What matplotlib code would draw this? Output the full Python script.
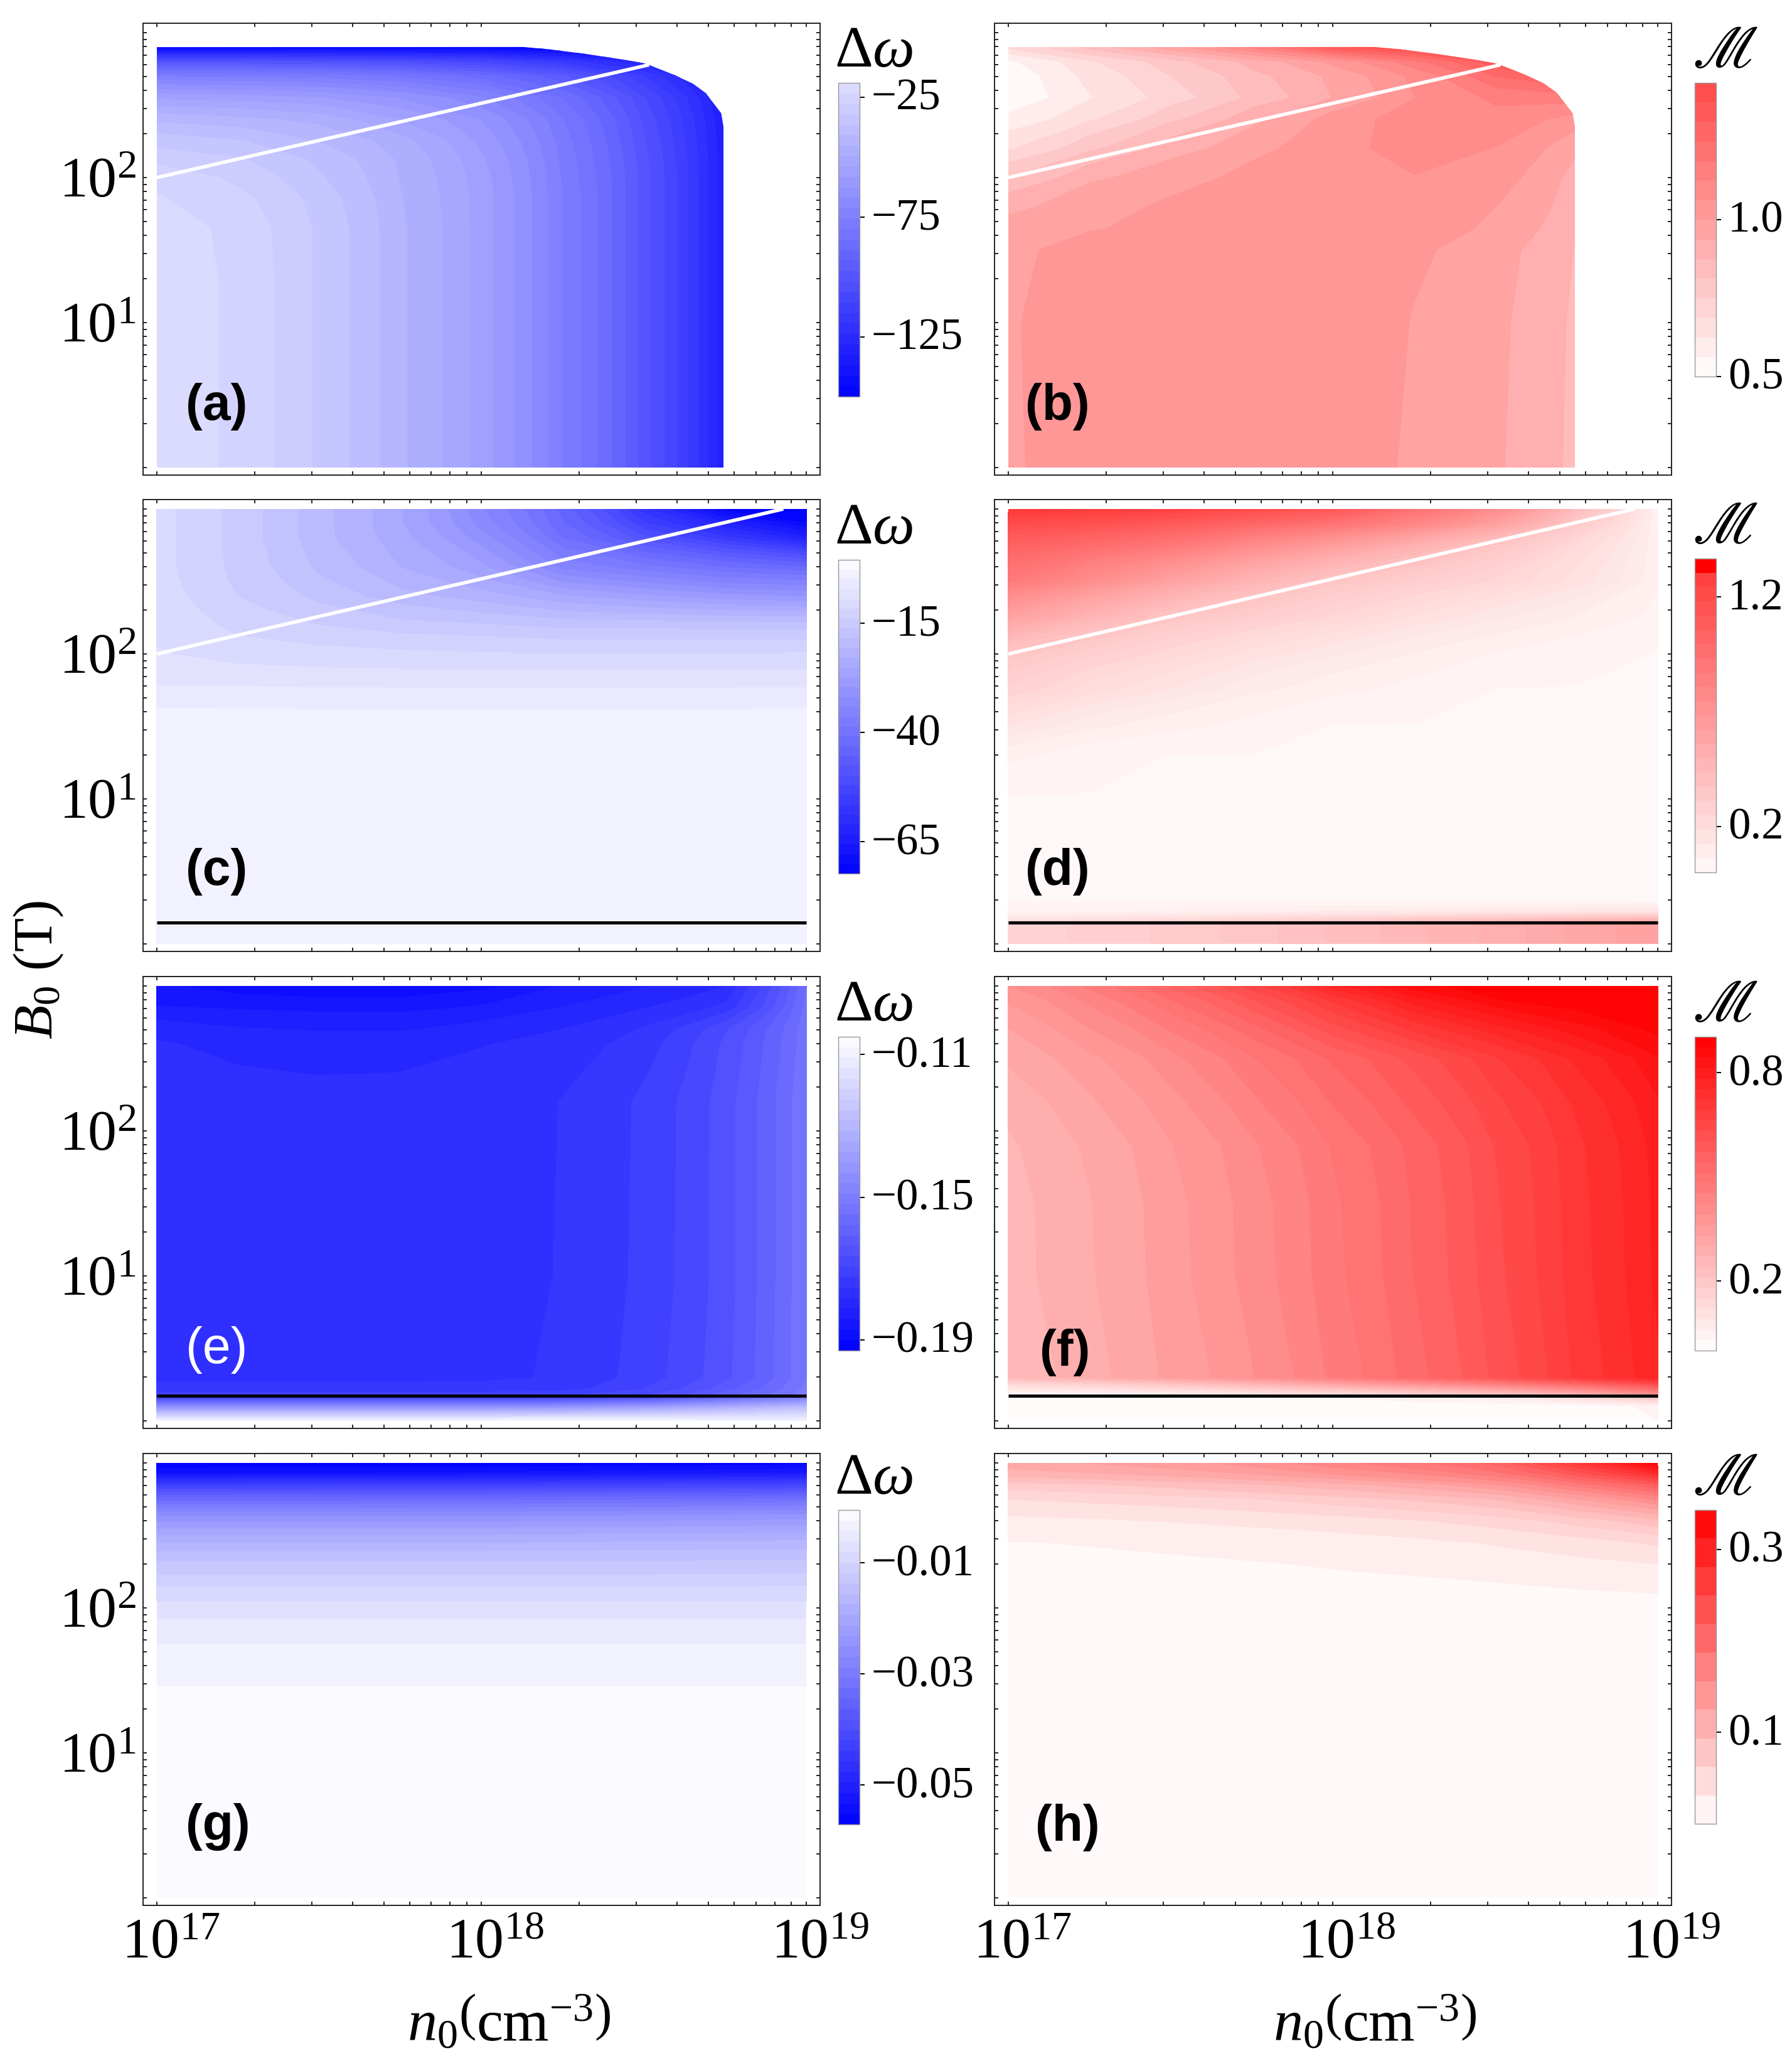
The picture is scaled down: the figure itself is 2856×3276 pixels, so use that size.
import numpy as np
import matplotlib
matplotlib.use("Agg")
import matplotlib.pyplot as plt
from matplotlib.cm import ScalarMappable
from matplotlib.colors import BoundaryNorm, ListedColormap
from matplotlib.patches import Polygon
from matplotlib.transforms import ScaledTranslation

plt.rcParams['font.family'] = ['Liberation Serif', 'DejaVu Serif']
plt.rcParams['mathtext.fontset'] = 'custom'
plt.rcParams['mathtext.rm'] = 'Liberation Serif'
plt.rcParams['mathtext.it'] = 'Liberation Serif:italic'
plt.rcParams['mathtext.bf'] = 'Liberation Serif:bold'

W, H = 2856, 3276
DPI = 200

# log10(n0) del grid comun
x9 = [17, 17.25, 17.5, 17.75, 18, 18.25, 18.5, 18.75, 19]

# panel a
a_y = [0, 1.3, 1.65, 1.85, 2, 2.12, 2.25, 2.4, 2.55, 2.7, 2.8, 2.9, 3]
a_z = [
    [-20.5, -24.6, -33, -44.5, -56, -76, -100, -132, -150],
    [-20.5, -24.6, -33, -44.5, -56, -76, -100, -132, -150],
    [-21, -25, -33, -44.5, -56, -76, -100, -132, -150],
    [-23, -26.5, -34, -45, -56, -76, -100, -132, -150],
    [-24.6, -29, -36, -45.5, -56.5, -76.5, -100, -132, -150],
    [-29, -31.5, -37.5, -46, -57.5, -77, -100.5, -132, -150],
    [-34, -36, -41, -48, -59.5, -78, -101.5, -132.5, -150],
    [-42, -44, -47, -54, -63, -80, -103, -133, -150],
    [-55, -56, -58, -63, -71, -85, -106, -135, -150],
    [-76, -77, -78, -81, -87, -97, -115, -140, -150],
    [-102, -102, -103, -105, -109, -117, -130, -150, -150],
    [-148, -148, -148, -148, -148, -150, -150, -150, -150],
    [-150, -150, -150, -150, -150, -150, -150, -150, -150],
]

# panel b
b_y = [0, 1, 1.5, 1.65, 1.8, 2, 2.2, 2.4, 2.55, 2.7, 2.8, 2.9, 3]
b_z = [
    [.993, 1.03, 1.035, 1.035, 1.025, .99, .945, .855, .84],
    [.995, 1.03, 1.035, 1.035, 1.025, .997, .95, .86, .85],
    [.99, 1.02, 1.03, 1.035, 1.03, 1.01, .96, .87, .85],
    [.96, .995, 1.02, 1.03, 1.035, 1.03, .985, .885, .85],
    [.92, .98, 1.01, 1.03, 1.035, 1.03, 1.0, .90, .85],
    [.81, .925, .975, 1.02, 1.05, 1.06, 1.03, .91, .87],
    [.68, .80, .91, .98, 1.05, 1.08, 1.06, .95, .90],
    [.58, .68, .80, .92, 1.03, 1.10, 1.10, 1.03, .95],
    [.52, .62, .72, .83, .94, 1.06, 1.14, 1.16, 1.10],
    [.52, .65, .75, .855, .955, 1.08, 1.25, 1.35, 1.35],
    [.55, .68, .79, .90, 1.02, 1.17, 1.36, 1.43, 1.43],
    [.70, .84, .98, 1.14, 1.36, 1.43, 1.43, 1.43, 1.43],
    [.80, .90, 1.05, 1.20, 1.40, 1.43, 1.43, 1.43, 1.43],
]

# borde del dominio en a y b (log10 n0, log10 B0)
edge_x = [17, 18.128, 18.209, 18.324, 18.44, 18.497, 18.516, 18.593, 18.651, 18.69, 18.738, 18.745, 18.745, 17]
edge_y = [2.9, 2.901, 2.885, 2.852, 2.813, 2.79, 2.777, 2.709, 2.648, 2.584, 2.444, 2.353, 0, 0]

# panel c
c_y = [0, 1.3, 1.5, 1.7, 1.85, 2, 2.1, 2.2, 2.3, 2.4, 2.5, 2.6, 2.8, 2.9, 3]
c_z = [
    [-3.4, -3.4, -3.4, -3.4, -3.4, -3.4, -3.4, -3.4, -3.4],
    [-3.4, -3.4, -3.4, -3.4, -3.4, -3.4, -3.4, -3.4, -3.4],
    [-3.6, -3.6, -3.6, -3.6, -3.6, -3.6, -3.6, -3.6, -3.6],
    [-6, -6.1, -6.2, -6.2, -6.2, -6.2, -6.2, -6.2, -6.1],
    [-8.3, -8.5, -8.7, -8.8, -8.8, -8.8, -8.8, -8.8, -8.8],
    [-9.3, -10.5, -11, -11.3, -11.5, -11.7, -11.7, -11.6, -11.5],
    [-9.7, -11.5, -12.3, -13, -13.5, -14, -14, -14, -14],
    [-10, -12.5, -14, -15.5, -16, -17, -17, -17.3, -17.5],
    [-10.4, -13.3, -15.5, -17.5, -19, -21, -22, -23, -23.5],
    [-10.7, -14, -17, -20, -22, -25, -27, -29, -30],
    [-10.9, -14.5, -18, -21.5, -24.5, -30, -32.5, -35, -36],
    [-11, -14.8, -19, -23, -27, -35, -38, -41, -43],
    [-11, -15, -20, -24.5, -31, -41, -49, -56, -63],
    [-11, -15, -20, -25, -33, -43, -54, -63, -70],
    [-11, -15, -20, -25, -34, -44, -58, -71, -72.3],
]

# panel d
d_y = [0, .14, .17, .22, .29, 1, 1.3, 1.5, 1.75, 2, 2.25, 2.5, 2.75, 2.9, 3]
d_z = [
    [.26, .29, .32, .36, .41, .46, .51, .57, .62],
    [.26, .29, .32, .36, .41, .46, .51, .57, .62],
    [.14, .17, .20, .24, .28, .33, .37, .42, .46],
    [.05, .06, .07, .09, .10, .11, .13, .14, .16],
    [.03, .03, .03, .03, .03, .03, .03, .03, .03],
    [.03, .03, .03, .03, .03, .03, .03, .03, .03],
    [.07, .04, .03, .03, .03, .03, .03, .03, .03],
    [.155, .10, .07, .05, .03, .03, .03, .03, .03],
    [.27, .20, .15, .10, .07, .05, .03, .03, .03],
    [.36, .29, .23, .17, .13, .09, .06, .04, .03],
    [.60, .47, .36, .30, .24, .18, .13, .09, .05],
    [.88, .74, .60, .47, .36, .30, .24, .17, .07],
    [1.05, .98, .90, .76, .64, .50, .36, .22, .07],
    [1.20, 1.17, 1.10, 1.02, .93, .80, .62, .33, .06],
    [1.33, 1.30, 1.27, 1.20, 1.12, .94, .75, .42, .06],
]

# panel e
e_y = [0, .09, .16, .22, .3, 1, 2.2, 2.4, 2.6, 2.7, 2.85, 3]
e_z = [
    [-.108, -.108, -.108, -.108, -.108, -.108, -.108, -.109, -.110],
    [-.141, -.141, -.141, -.141, -.141, -.140, -.137, -.132, -.127],
    [-.170, -.170, -.170, -.170, -.170, -.169, -.166, -.158, -.150],
    [-.174, -.174, -.174, -.174, -.174, -.1735, -.1695, -.162, -.151],
    [-.1765, -.1765, -.1765, -.1765, -.1762, -.1748, -.171, -.1645, -.152],
    [-.1769, -.1769, -.1769, -.1769, -.1765, -.1752, -.1716, -.165, -.152],
    [-.1769, -.1769, -.1769, -.1769, -.1767, -.1753, -.1718, -.165, -.152],
    [-.1772, -.178, -.1785, -.1783, -.1775, -.1760, -.1728, -.1655, -.1525],
    [-.178, -.1795, -.180, -.1797, -.1785, -.177, -.1738, -.166, -.153],
    [-.1795, -.181, -.1815, -.1815, -.180, -.1783, -.175, -.167, -.153],
    [-.184, -.1845, -.185, -.185, -.1838, -.1812, -.1785, -.1745, -.154],
    [-.1865, -.189, -.190, -.190, -.188, -.184, -.1815, -.1785, -.155],
]

# panel f
f_y = [0, .1, .16, .19, .25, .3, 1, 1.5, 1.9, 2.2, 2.5, 2.7, 2.9, 3]
f_z = [
    [.005, .005, .005, .005, .005, .006, .008, .012, .03],
    [.005, .005, .005, .005, .005, .007, .01, .012, .04],
    [.01, .01, .015, .02, .03, .05, .07, .12, .20],
    [.04, .05, .07, .10, .13, .17, .22, .30, .42],
    [.13, .16, .20, .25, .31, .37, .44, .52, .62],
    [.25, .29, .34, .39, .46, .53, .61, .70, .78],
    [.26, .298, .35, .405, .473, .543, .624, .71, .79],
    [.2605, .2995, .352, .407, .476, .546, .628, .712, .792],
    [.2665, .308, .36, .417, .486, .553, .634, .716, .796],
    [.282, .327, .382, .446, .515, .583, .656, .73, .81],
    [.307, .354, .413, .479, .549, .614, .689, .761, .84],
    [.33, .39, .455, .53, .62, .70, .77, .83, .885],
    [.365, .43, .51, .60, .70, .80, .87, .90, .903],
    [.39, .46, .55, .65, .77, .86, .90, .903, .903],
]

# panel g
g_x = [17, 18, 19]
g_y = [0, 1.4, 1.46, 1.75, 1.925, 2.046, 2.147, 2.23, 2.35, 2.45, 2.53, 2.63, 2.73, 2.83, 2.93, 3]
g_z = [
    [-.0013, -.0013, -.0013],
    [-.0013, -.0013, -.0013],
    [-.0024, -.0024, -.0024],
    [-.0043, -.0043, -.0043],
    [-.0062, -.0062, -.0062],
    [-.0081, -.0081, -.0081],
    [-.0100, -.0100, -.0099],
    [-.0119, -.0119, -.0117],
    [-.0145, -.0145, -.0142],
    [-.0175, -.0175, -.0170],
    [-.0205, -.0205, -.0198],
    [-.0250, -.0250, -.0242],
    [-.0320, -.0318, -.0308],
    [-.0415, -.0412, -.0400],
    [-.0535, -.0530, -.0515],
    [-.0571, -.0571, -.0560],
]

# panel h
h_x = [17, 17.5, 18, 18.5, 18.75, 19]
h_y = [0, 1.5, 2.1, 2.3, 2.45, 2.6, 2.75, 2.85, 2.92, 3]
h_z = [
    [.008, .008, .008, .008, .008, .008],
    [.008, .008, .008, .008, .008, .008],
    [.008, .009, .010, .012, .014, .0156],
    [.010, .013, .017, .023, .027, .031],
    [.015, .019, .024, .033, .040, .050],
    [.027, .032, .040, .055, .070, .090],
    [.047, .056, .072, .095, .125, .160],
    [.072, .085, .105, .140, .180, .220],
    [.100, .115, .140, .180, .225, .280],
    [.120, .135, .168, .210, .270, .343],
]

# lineas sobre los paneles
white_short_n = [1e17, 3.28e18]
white_short_B = [100, 600]
white_long_n = [1e17, 8.5e18]
white_long_B = [100, 1000]
black_cd_B = 1.41
black_ef_B = 1.49

x_major = [1e17, 1e18, 1e19]
x_labels = [r'$\mathregular{10^{17}}$', r'$\mathregular{10^{18}}$', r'$\mathregular{10^{19}}$']
y_major = [1, 10, 100, 1000]
y_labels = ['', r'$\mathregular{10^{1}}$', r'$\mathregular{10^{2}}$', '']

row_tops = [37, 796, 1556, 2316]
col_edges = [(228, 1307), (1585, 2664)]
bar_x = [(1336, 1370), (2701, 2735)]

panels = [
    dict(tag='(a)', col=0, row=0, x=x9, y=a_y, z=a_z, lo=-150, hi=-19, t_lo=1, t_hi=.127, colour='blue',
         bands=30, bar_bands=30, bar=(132, 632), ticks=[-25, -75, -125], labels=['\u221225', '\u221275', '\u2212125'],
         clip=True, line=(white_short_n, white_short_B), black=None, label_y=648, label_x=345),
    dict(tag='(b)', col=1, row=0, x=x9, y=b_y, z=b_z, lo=.5, hi=1.436, t_lo=0, t_hi=.72, colour='red',
         bands=15, bar_bands=15, bar=(132, 600), ticks=[.5, 1.0], labels=['0.5', '1.0'],
         clip=True, line=(white_short_n, white_short_B), black=None, label_y=648, label_x=1685),
    dict(tag='(c)', col=0, row=1, x=x9, y=c_y, z=c_z, lo=-72.3, hi=-.5, t_lo=1, t_hi=.007, colour='blue',
         bands=32, bar_bands=32, bar=(892, 1392), ticks=[-15, -40, -65], labels=['\u221215', '\u221240', '\u221265'],
         clip=False, line=(white_long_n, white_long_B), black=black_cd_B, label_y=1389, label_x=345),
    dict(tag='(d)', col=1, row=1, x=x9, y=d_y, z=d_z, lo=0, hi=1.368, t_lo=.02, t_hi=.8, colour='red',
         bands=44, bar_bands=22, bar=(890, 1390), ticks=[.2, 1.2], labels=['0.2', '1.2'], top_full=True,
         clip=False, line=(white_long_n, white_long_B), black=black_cd_B, label_y=1389, label_x=1685),
    dict(tag='(e)', col=0, row=2, x=x9, y=e_y, z=e_z, lo=-.193, hi=-.105, t_lo=1, t_hi=0, colour='blue',
         bands=30, bar_bands=30, bar=(1652, 2152), ticks=[-.11, -.15, -.19],
         labels=['\u22120.11', '\u22120.15', '\u22120.19'],
         clip=False, line=None, black=black_ef_B, label_y=2151, label_x=345, label_colour='white', label_weight='normal'),
    dict(tag='(f)', col=1, row=2, x=x9, y=f_y, z=f_z, lo=0, hi=.903, t_lo=0, t_hi=1, colour='red',
         bands=30, bar_bands=30, bar=(1652, 2152), ticks=[.2, .8], labels=['0.2', '0.8'],
         clip=False, line=None, black=black_ef_B, label_y=2155, label_x=1697),
    dict(tag='(g)', col=0, row=3, x=g_x, y=g_y, z=g_z, lo=-.0571, hi=-.0005, t_lo=1, t_hi=0, colour='blue',
         bands=30, bar_bands=30, bar=(2406, 2907), ticks=[-.01, -.03, -.05],
         labels=['\u22120.01', '\u22120.03', '\u22120.05'],
         clip=False, line=None, black=None, label_y=2911, label_x=347),
    dict(tag='(h)', col=1, row=3, x=h_x, y=h_y, z=h_z, lo=0, hi=.343, t_lo=0, t_hi=1, colour='red',
         bands=22, bar_bands=11, bar=(2406, 2906), ticks=[.1, .3], labels=['0.1', '0.3'],
         clip=False, line=None, black=None, label_y=2912, label_x=1701),
]


def caja(l, t, r, b):
    return [l / W, 1 - b / H, (r - l) / W, (b - t) / H]


def tonos(p, n):
    # de claro a saturado mezclando con blanco
    base = np.array([0, 0, 1.0]) if p['colour'] == 'blue' else np.array([1.0, 0, 0])
    ts = np.linspace(p['t_lo'], p['t_hi'], n)
    return [tuple(1 - t * (1 - base)) for t in ts]


def mapa(p, n):
    # al centro de cada banda le toca su tono
    base = tonos(p, 2 * n + 1)[1::2]
    if p.get('top_full'):
        base[-1] = (1.0, 0, 0)
    cm = ListedColormap(base)
    return cm.with_extremes(under=base[0], over=base[-1])


def desplazar(labels, dx, dy, fig):
    for lab in labels:
        lab.set_transform(lab.get_transform() + ScaledTranslation(dx / DPI, -dy / DPI, fig.dpi_scale_trans))


fig = plt.figure(figsize=(W / DPI, H / DPI), dpi=DPI)
minor_x = [k * 10.0 ** e for e in (17, 18) for k in range(2, 10)]
minor_y = [k * 10.0 ** e for e in (0, 1, 2) for k in range(2, 10)]

for p in panels:
    l, r = col_edges[p['col']]
    top = row_tops[p['row']]
    ax = fig.add_axes(caja(l, top, r, top + 720))
    ax.set_xscale('log')
    ax.set_yscale('log')

    n0 = 10.0 ** np.array(p['x'], dtype=float)
    B0 = 10.0 ** np.array(p['y'], dtype=float)
    z = np.array(p['z'], dtype=float)
    levels = np.linspace(p['lo'], p['hi'], p['bands'] + 1)
    cm = mapa(p, p['bands'])
    cs = ax.contourf(n0, B0, z, levels=levels, cmap=cm, norm=BoundaryNorm(levels, p['bands']), extend='both')
    if p['clip']:
        borde = Polygon(np.column_stack([10.0 ** np.array(edge_x), 10.0 ** np.array(edge_y)]),
                        closed=True, transform=ax.transData)
        cs.set_clip_path(borde)

    if p['line'] is not None:
        ax.plot(p['line'][0], p['line'][1], color='white', lw=2.0, solid_capstyle='butt')
    if p['black'] is not None:
        ax.plot([1e17, 1e19], [p['black'], p['black']], color='black', lw=1.8, solid_capstyle='butt')

    ax.set_xlim(10 ** (17 - 22 / 518), 10 ** (19 + 22 / 518))
    ax.set_ylim(10 ** (-12 / 231), 10 ** (3 + 15 / 231))

    ax.set_xticks(x_major, x_labels if p['row'] == 3 else [''] * 3)
    ax.set_xticks(minor_x, minor=True)
    ax.set_yticks(y_major, y_labels if p['col'] == 0 else [''] * 4)
    ax.set_yticks(minor_y, minor=True)
    ax.xaxis.set_minor_formatter(plt.NullFormatter())
    ax.yaxis.set_minor_formatter(plt.NullFormatter())
    ax.tick_params(which='both', direction='in', top=True, right=True, length=2.3, width=.6, labelsize=33)
    ax.tick_params(axis='x', which='major', pad=7.5)
    ax.tick_params(axis='y', which='major', pad=4)
    for s in ax.spines.values():
        s.set_linewidth(.7)
        s.set_color('#222222')
    desplazar(ax.get_xticklabels(), 22, 0, fig)
    desplazar(ax.get_yticklabels(), 0, -1, fig)

    fig.text(p['label_x'] / W, 1 - p['label_y'] / H, p['tag'], family='Liberation Sans', fontsize=29,
             fontweight=p.get('label_weight', 'bold'), color=p.get('label_colour', 'black'),
             ha='center', va='center')

    # barra de color
    bx = bar_x[p['col']]
    bt, bb = p['bar']
    cax = fig.add_axes(caja(bx[0], bt, bx[1], bb))
    bar_levels = np.linspace(p['lo'], p['hi'], p['bar_bands'] + 1)
    bar_map = mapa(p, p['bar_bands'])
    sm = ScalarMappable(norm=BoundaryNorm(bar_levels, p['bar_bands']), cmap=bar_map)
    cb = fig.colorbar(sm, cax=cax, spacing='proportional', drawedges=False)
    cb.set_ticks(p['ticks'], labels=p['labels'])
    cb.minorticks_off()
    cax.tick_params(length=2.8, width=.7, labelsize=25.5, pad=4, direction='out')
    cb.outline.set_linewidth(.5)
    cb.outline.set_edgecolor('#999999')
    desplazar(cax.get_yticklabels(), 0, -5, fig)

    if p['colour'] == 'blue':
        fig.text((bx[0] - 6) / W, 1 - (bt - 26) / H, r'$\mathregular{\Delta}\omega$', fontsize=34,
                 ha='left', va='baseline')
    else:
        fig.text((bx[0] - 4) / W, 1 - (bt - 24) / H, r'$\mathscr{M}$', fontsize=35, ha='left', va='baseline',
                 math_fontfamily='stix')

fig.text(62 / W, 1 - 1545 / H, r'$\mathit{B}_{0}$ (T)', fontsize=32, rotation=90, ha='center', va='center')
xlabel = r'$\mathit{n}_{0}\left(\mathrm{cm}^{-3}\right)$'
fig.text(811 / W, 1 - 3225 / H, xlabel, fontsize=34, ha='center', va='center')
fig.text(2191 / W, 1 - 3225 / H, xlabel, fontsize=34, ha='center', va='center')

fig.savefig('out.png', dpi=DPI)
